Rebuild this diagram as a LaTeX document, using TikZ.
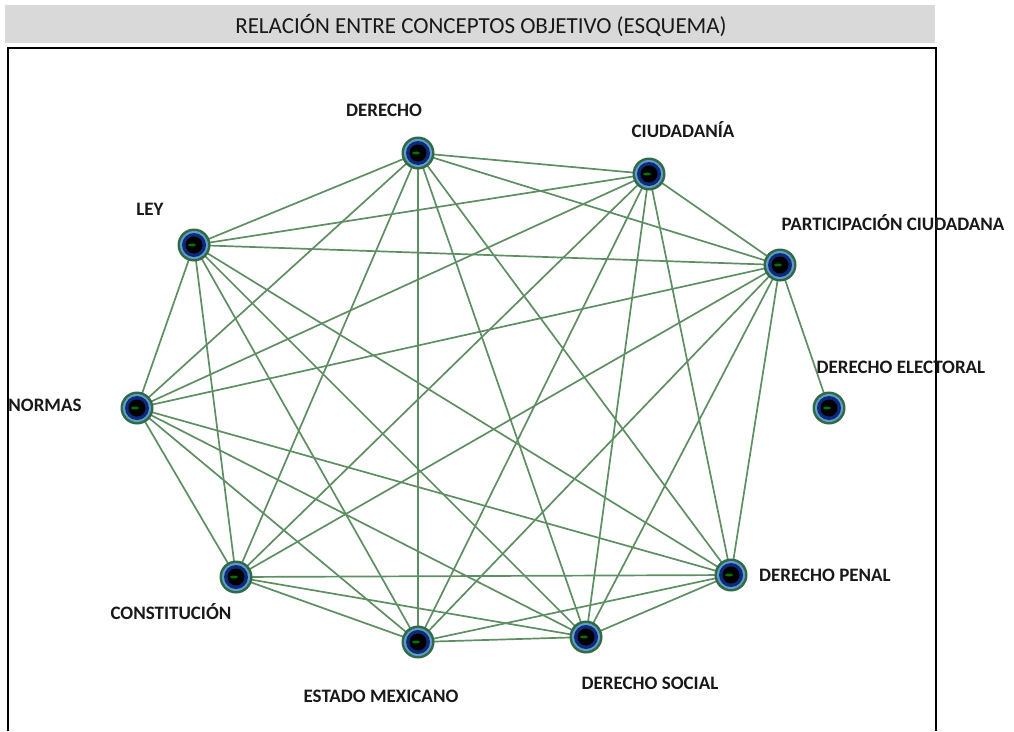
\documentclass[tikz,border=0pt]{standalone}
\usepackage{fontspec}
\setmainfont{Carlito}
\usetikzlibrary{calc}
\definecolor{edgegreen}{HTML}{5E8F62}
\definecolor{ringgreen}{HTML}{2F6A45}
\definecolor{ringblue}{HTML}{5F9BCB}
\definecolor{coreblue}{HTML}{0E2A78}
\definecolor{titlegray}{HTML}{D9D9D9}
\begin{document}
\begin{tikzpicture}[x=1pt,y=-1pt,
  edge/.style={draw=edgegreen,line width=1.7pt},
  lbl/.style={font=\bfseries\fontsize{19}{22}\selectfont,text=black!90,inner sep=0pt},
  vert/.style={circle,minimum size=33pt,inner sep=0pt,fill=ringgreen,
    path picture={
      \fill[ringblue] (path picture bounding box.center) circle (14pt);
      \fill[coreblue] (path picture bounding box.center) circle (12pt);
      \fill[black] (path picture bounding box.center) circle (8.5pt);
      \fill[green!45!black] ($(path picture bounding box.center)+(-2pt,0)$) ellipse (4pt and 1.5pt);
    }}]
\useasboundingbox (0,0) rectangle (1014,731);
\fill[white] (0,0) rectangle (1014,731);
% title
\fill[titlegray] (5,5) rectangle (935,43);
\node[font=\fontsize{23}{26}\selectfont,inner sep=0pt,text=black!90] (title) at (481,25) {RELACIÓN ENTRE CONCEPTOS OBJETIVO (ESQUEMA)};
% frame
\draw[line width=1.3pt] (8,731) -- (8,48) -- (936,48) -- (936,731);
% vertices
\coordinate (D) at (418,153);
\coordinate (C) at (649,174);
\coordinate (P) at (780,265);
\coordinate (E) at (829,408);
\coordinate (DP) at (731,575);
\coordinate (DS) at (586,637);
\coordinate (EM) at (418,642);
\coordinate (CO) at (236,577);
\coordinate (N) at (137,408);
\coordinate (L) at (194,245);
% edges (complete graph on 9 vertices)
\foreach \a/\b in {D/C,D/P,D/DP,D/DS,D/EM,D/CO,D/N,D/L,
  C/P,C/DP,C/DS,C/EM,C/CO,C/N,C/L,
  P/DP,P/DS,P/EM,P/CO,P/N,P/L,P/E,
  DP/DS,DP/EM,DP/CO,DP/N,DP/L,
  DS/EM,DS/CO,DS/N,DS/L,
  EM/CO,EM/N,EM/L,
  CO/N,CO/L,
  N/L}
  \draw[edge] (\a) -- (\b);
\foreach \v in {D,C,P,E,DP,DS,EM,CO,N,L}
  \node[vert] (n\v) at (\v) {};
% labels
\node[lbl] (lD) at (384,110) {DERECHO};
\node[lbl] (lC) at (683,130) {CIUDADANÍA};
\node[lbl] (lP) at (893,223) {PARTICIPACIÓN CIUDADANA};
\node[lbl] (lE) at (901,367) {DERECHO ELECTORAL};
\node[lbl] (lL) at (150,209) {LEY};
\node[lbl] (lN) at (45,405) {NORMAS};
\node[lbl] (lDP) at (825,575) {DERECHO PENAL};
\node[lbl] (lCO) at (171,612) {CONSTITUCIÓN};
\node[lbl] (lEM) at (381,696) {ESTADO MEXICANO};
\node[lbl] (lDS) at (650,683) {DERECHO SOCIAL};
\end{tikzpicture}
\end{document}
